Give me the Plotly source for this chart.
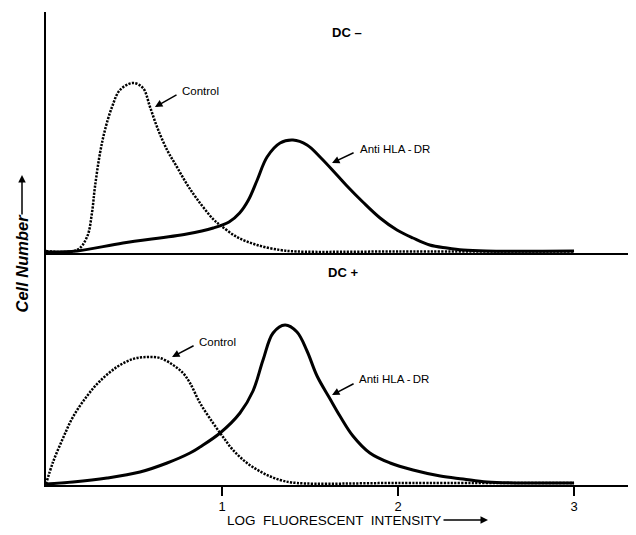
import plotly.graph_objects as go

# ---- data (log fluorescent intensity vs relative cell number) ----
top_control_x = [0.0, 0.176, 0.233, 0.261, 0.278, 0.307, 0.335, 0.375, 0.42, 0.494, 0.551, 0.591,
                 0.631, 0.688, 0.744, 0.80, 0.858, 0.949, 0.989, 1.085, 1.199, 1.33, 1.426, 2.0, 3.0]
top_control_y = [2, 3, 16, 40, 66, 100, 123, 146, 163, 170, 165, 146,
                 126, 103, 86, 69, 54, 34, 28, 16, 8, 3, 1.5, 1.5, 1.5]

top_anti_x = [0.0, 0.176, 0.4375, 0.80, 0.95, 1.04, 1.10, 1.15, 1.20, 1.256, 1.33, 1.403,
              1.483, 1.557, 1.653, 1.71, 1.80, 1.898, 1.994, 2.085, 2.18, 2.278, 2.37, 2.5, 3.0]
top_anti_y = [1, 2, 10, 19, 25, 31, 40, 53, 73, 96, 110, 113,
              108, 96, 78, 67, 51, 35, 23, 15, 8, 5, 3, 2, 2]

bot_control_x = [0.0, 0.04, 0.097, 0.153, 0.233, 0.307, 0.403, 0.494, 0.574, 0.648, 0.722, 0.778,
                 0.818, 0.875, 0.949, 1.006, 1.0625, 1.142, 1.233, 1.33, 1.426, 2.0, 3.0]
bot_control_y = [1, 23, 47, 68, 89, 104, 118, 126, 128, 127, 120, 112,
                 102, 82, 62, 48, 35, 22, 12, 5, 2, 2, 2]

bot_anti_x = [0.0, 0.153, 0.347, 0.534, 0.688, 0.818, 0.875, 0.989, 1.102, 1.176, 1.233, 1.29,
              1.358, 1.426, 1.483, 1.54, 1.614, 1.67, 1.744, 1.84, 1.955, 2.085, 2.24, 2.37,
              2.506, 2.7, 3.0]
bot_anti_y = [1, 3, 7, 13, 22, 32, 38, 52, 72, 94, 125, 152,
              160, 153, 134, 109, 86, 69, 49, 32, 22, 15, 9, 6,
              3, 2, 2]

x_ticks = [1, 2, 3]
x_tick_labels = ["1", "2", "3"]

FONT = "Liberation Sans, Arial, Helvetica, sans-serif"
dot_style = "2.2px,1.3px"

fig = go.Figure()
fig.add_trace(go.Scatter(x=top_control_x, y=top_control_y, mode="lines", line_shape="spline",
                         line=dict(color="black", width=2.5, dash=dot_style), xaxis="x", yaxis="y"))
fig.add_trace(go.Scatter(x=top_anti_x, y=top_anti_y, mode="lines", line_shape="spline",
                         line=dict(color="black", width=3), xaxis="x", yaxis="y"))
fig.add_trace(go.Scatter(x=bot_control_x, y=bot_control_y, mode="lines", line_shape="spline",
                         line=dict(color="black", width=2.5, dash=dot_style), xaxis="x2", yaxis="y2"))
fig.add_trace(go.Scatter(x=bot_anti_x, y=bot_anti_y, mode="lines", line_shape="spline",
                         line=dict(color="black", width=3), xaxis="x2", yaxis="y2"))

split = 232 / 473
axis_common = dict(showline=True, linecolor="black", linewidth=1.5, showgrid=False,
                   zeroline=False, fixedrange=True)
fig.update_layout(
    width=636, height=535,
    margin=dict(l=38, r=8, t=4, b=58),
    paper_bgcolor="white", plot_bgcolor="white",
    showlegend=False,
    font=dict(family=FONT, color="black"),
    xaxis=dict(domain=[0, 1], anchor="y", range=[0, 3.352], showticklabels=False, ticks="",
               **axis_common),
    yaxis=dict(domain=[split, 1], anchor="x", range=[0, 241], showticklabels=False, ticks="",
               **axis_common),
    xaxis2=dict(domain=[0, 1], anchor="y2", range=[0, 3.352], tickvals=x_ticks,
                ticktext=x_tick_labels, ticks="outside", ticklen=9, tickwidth=1.5,
                tickcolor="black", tickfont=dict(size=13, family=FONT), **axis_common),
    yaxis2=dict(domain=[0, split], anchor="x2", range=[0, 232], showticklabels=False, ticks="",
                **axis_common),
)

ann = []
lbl = dict(size=11.5, family=FONT)
arrow_style = dict(showarrow=True, arrowhead=2, arrowsize=1, arrowwidth=1.5, arrowcolor="black")
# panel titles
ann.append(dict(text="<b>DC \u2013</b>", x=1.71, y=221, xref="x", yref="y", showarrow=False,
                xanchor="center", yanchor="middle", font=dict(size=13, family=FONT)))
ann.append(dict(text="<b>DC +</b>", x=1.69, y=213, xref="x2", yref="y2", showarrow=False,
                xanchor="center", yanchor="middle", font=dict(size=13, family=FONT)))
# curve labels
ann.append(dict(text="Control", x=0.761, y=162, xref="x", yref="y", xanchor="left",
                yanchor="middle", showarrow=False, font=lbl))
ann.append(dict(text="", x=0.619, y=146, ax=0.75, ay=159, xref="x", yref="y", axref="x",
                ayref="y", **arrow_style))
ann.append(dict(text="Anti HLA\u2009-\u2009DR", x=1.773, y=104, xref="x", yref="y",
                xanchor="left", yanchor="middle", showarrow=False, font=lbl))
ann.append(dict(text="", x=1.625, y=90, ax=1.756, ay=101, xref="x", yref="y", axref="x",
                ayref="y", **arrow_style))
ann.append(dict(text="Control", x=0.858, y=143, xref="x2", yref="y2", xanchor="left",
                yanchor="middle", showarrow=False, font=lbl))
ann.append(dict(text="", x=0.716, y=128, ax=0.847, ay=140, xref="x2", yref="y2", axref="x2",
                ayref="y2", **arrow_style))
ann.append(dict(text="Anti HLA\u2009-\u2009DR", x=1.767, y=106, xref="x2", yref="y2",
                xanchor="left", yanchor="middle", showarrow=False, font=lbl))
ann.append(dict(text="", x=1.625, y=90, ax=1.756, ay=102, xref="x2", yref="y2", axref="x2",
                ayref="y2", **arrow_style))
# x axis title with arrow
ann.append(dict(text="LOG  FLUORESCENT  INTENSITY", x=(225 - 46) / 590, y=-35 / 473,
                xref="paper", yref="paper", xanchor="left", yanchor="middle", showarrow=False,
                font=dict(size=13.5, family=FONT)))
ann.append(dict(text="", x=(488 - 46) / 590, y=-35 / 473, ax=-46, ay=0, xref="paper",
                yref="paper", **arrow_style))
# y axis title with arrow
ann.append(dict(text="<b><i>Cell Number</i></b>", x=(21 - 46) / 590, y=(485 - 263.5) / 473,
                xref="paper", yref="paper", textangle=-90, xanchor="center", yanchor="middle",
                showarrow=False, font=dict(size=16.5, family=FONT)))
ann.append(dict(text="", x=(22 - 46) / 590, y=(485 - 175) / 473, ax=0, ay=41, xref="paper",
                yref="paper", **arrow_style))
fig.update_layout(annotations=ann)

fig.write_html("out.html")
